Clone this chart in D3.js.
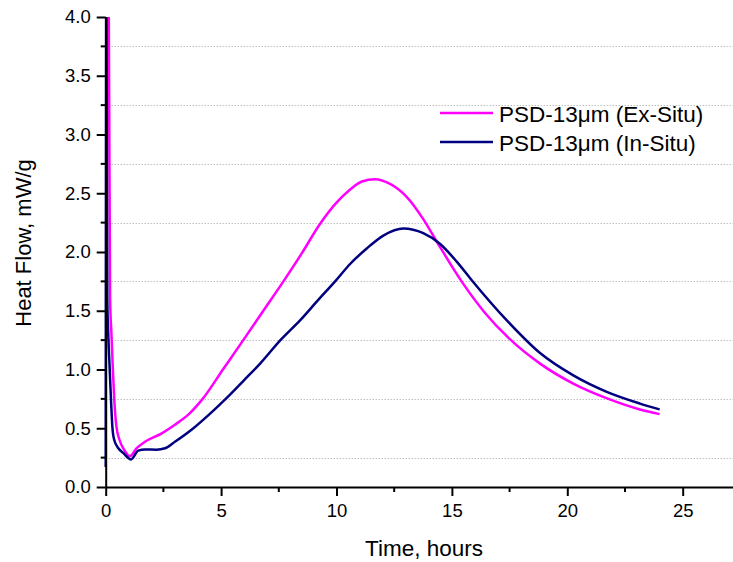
<!DOCTYPE html>
<html>
<head>
<meta charset="utf-8">
<script src="https://cdn.jsdelivr.net/npm/d3@7"></script>
<style>
  body { margin: 0; background: #fff; }
  svg { font-family: Arial, "Liberation Sans", sans-serif; }
</style>
</head>
<body>
<svg width="733" height="562"></svg>
<script>
// data (time in hours, heat flow in mW/g)
const seriesNames = ["PSD-13\u03bcm (Ex-Situ)", "PSD-13\u03bcm (In-Situ)"];
const seriesColors = ["#ff00ff", "#000080"];

const exSituT = [0.12, 0.19, 0.25, 0.31, 0.37, 0.46, 0.6, 0.82, 1.05, 1.34, 1.7, 2.43, 3.0, 3.6, 4.2, 5.08, 5.96, 6.83, 7.7, 8.5, 9.29, 10.0, 10.58, 11.1, 11.67, 12.32, 13.04, 13.76, 14.4, 15.42, 16.4, 17.5, 18.82, 20.26, 21.78, 23.15, 24.0];
const exSituV = [4.6, 1.6, 1.3, 1.0, 0.75, 0.52, 0.40, 0.31, 0.262, 0.33, 0.385, 0.457, 0.53, 0.62, 0.75, 1.0, 1.25, 1.5, 1.75, 1.99, 2.24, 2.42, 2.53, 2.6, 2.62, 2.58, 2.47, 2.28, 2.07, 1.75, 1.49, 1.26, 1.05, 0.88, 0.75, 0.66, 0.62];

const inSituT = [0, 0.025, 0.07, 0.11, 0.17, 0.23, 0.29, 0.37, 0.55, 0.76, 1.1, 1.41, 1.7, 2.2, 2.57, 3.0, 3.8, 4.5, 5.2, 6.0, 6.69, 7.57, 8.43, 9.2, 9.94, 10.6, 11.31, 12.03, 12.9, 13.76, 14.48, 15.2, 15.86, 17.37, 18.82, 20.26, 21.71, 23.15, 24.0];
const inSituV = [0.17, 4.6, 1.6, 1.31, 1.02, 0.74, 0.51, 0.40, 0.33, 0.29, 0.235, 0.31, 0.32, 0.318, 0.33, 0.385, 0.50, 0.62, 0.75, 0.91, 1.05, 1.25, 1.42, 1.59, 1.75, 1.9, 2.03, 2.14, 2.20, 2.16, 2.07, 1.92, 1.76, 1.42, 1.14, 0.95, 0.81, 0.71, 0.66];

const xMajor = [0, 5, 10, 15, 20, 25];
const xMinor = [2.5, 7.5, 12.5, 17.5, 22.5];
const yMajor = [0, 0.5, 1.0, 1.5, 2.0, 2.5, 3.0, 3.5, 4.0];
const yMinor = [0.25, 0.75, 1.25, 1.75, 2.25, 2.75, 3.25, 3.75];

const svg = d3.select("svg");
const x = d3.scaleLinear().domain([0, 27.18]).range([105.7, 733]);
const y = d3.scaleLinear().domain([0, 4]).range([487, 17]);

// dotted grid at the minor y positions
svg.append("g").selectAll("line")
  .data(yMinor).enter().append("line")
  .attr("x1", x(0)).attr("x2", 733)
  .attr("y1", d => Math.round(y(d)) + 0.5).attr("y2", d => Math.round(y(d)) + 0.5)
  .style("stroke", "#a0a0a0").style("stroke-width", 1)
  .style("stroke-dasharray", "1,2");

svg.append("clipPath").attr("id", "plot")
  .append("rect").attr("x", x(0) - 2).attr("y", y(4)).attr("width", 733).attr("height", y(0) - y(4));

const line = d3.line().x(d => x(d[0])).y(d => y(d[1])).curve(d3.curveMonotoneX);
const series = [d3.zip(exSituT, exSituV), d3.zip(inSituT, inSituV)];

svg.append("g").attr("clip-path", "url(#plot)")
  .selectAll("path").data(series).enter().append("path")
  .attr("d", line)
  .style("fill", "none")
  .style("stroke", (d, i) => seriesColors[i])
  .style("stroke-width", 2.5);

// axes
const xAxis = svg.append("g").attr("transform", `translate(0,${y(0)})`)
  .call(d3.axisBottom(x).tickValues(xMajor).tickFormat(d3.format("d")).tickSizeInner(9).tickSizeOuter(0).tickPadding(8));
xAxis.append("g").selectAll("line").data(xMinor).enter().append("line")
  .attr("x1", d => x(d)).attr("x2", d => x(d)).attr("y1", 0).attr("y2", 5)
  .style("stroke", "#000");

const yAxis = svg.append("g").attr("transform", `translate(${x(0)},0)`)
  .call(d3.axisLeft(y).tickValues(yMajor).tickFormat(d3.format(".1f")).tickSizeInner(9).tickSizeOuter(0).tickPadding(6));
yAxis.append("g").selectAll("line").data(yMinor).enter().append("line")
  .attr("x1", 0).attr("x2", -5).attr("y1", d => y(d)).attr("y2", d => y(d))
  .style("stroke", "#000");

svg.selectAll(".domain").style("stroke", "#000").style("stroke-width", 2);
svg.selectAll(".tick line").style("stroke-width", 2);
yAxis.selectAll("g > line").style("stroke-width", 2);
xAxis.selectAll("g > line").style("stroke-width", 2);
svg.selectAll(".tick text").style("font-size", "18.5px").style("fill", "#000")
  .style("font-family", "Arial, 'Liberation Sans', sans-serif");

// axis titles
svg.append("text").attr("x", 424).attr("y", 556)
  .attr("text-anchor", "middle").style("font-size", "22.5px")
  .text("Time, hours");
svg.append("text").attr("transform", "translate(31,243) rotate(-90)")
  .attr("text-anchor", "middle").style("font-size", "22px")
  .text("Heat Flow, mW/g");

// legend
const legend = svg.append("g").selectAll("g").data(seriesNames).enter().append("g")
  .attr("transform", (d, i) => `translate(440,${113 + i * 29})`);
legend.append("line").attr("x1", 0).attr("x2", 53)
  .style("stroke", (d, i) => seriesColors[i]).style("stroke-width", 2.5);
legend.append("text").attr("x", 59).attr("y", 8.5)
  .style("font-size", "22.5px").text(d => d);
</script>
</body>
</html>
